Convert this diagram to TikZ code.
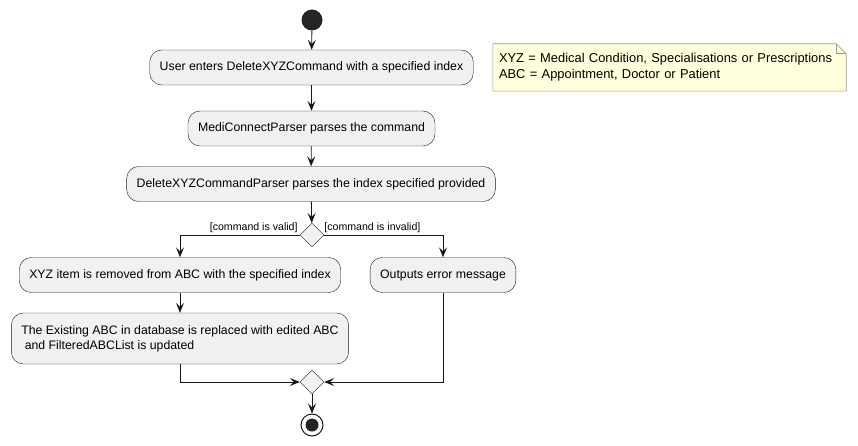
\documentclass[tikz,border=0pt]{standalone}
\usepackage{fontspec}
\setmainfont{Liberation Sans}
\usetikzlibrary{shapes.geometric, arrows.meta, positioning, calc, backgrounds}
\definecolor{actfill}{HTML}{F1F1F1}
\definecolor{actline}{HTML}{181818}
\definecolor{notefill}{HTML}{FEFFDD}
\definecolor{noteline}{HTML}{999999}
\begin{document}
\begin{tikzpicture}[
    x=1pt, y=-1pt,
    every node/.style={font=\fontsize{12.3}{15}\selectfont},
    act/.style={rectangle, draw=actline, fill=actfill, rounded corners=12pt,
                minimum height=35pt, inner xsep=10pt, align=center},
    choice/.style={diamond, draw=actline, fill=actfill, minimum width=24pt,
                   minimum height=24pt, inner sep=0pt},
    guard/.style={font=\fontsize{10.6}{12}\selectfont, inner sep=1pt},
    notetext/.style={align=left, inner xsep=6pt, minimum width=353pt,
                     minimum height=47pt, text width=341pt,
                     font=\fontsize{12.9}{16}\selectfont},
    arr/.style={-{Stealth[length=10pt, width=8pt, inset=4pt]}, actline, line width=0.8pt}
]
    \useasboundingbox (0,0) rectangle (858,446);

    \node[circle, fill=actline!95, minimum size=21pt, inner sep=0pt] (start) at (312,20) {};
    \node[act] (enter)  at (311.5,67.5)  {User enters DeleteXYZCommand with a specified index};
    \node[act] (mcp)    at (311.5,128.5) {MediConnectParser parses the command};
    \node[act] (dxp)    at (311,184)     {DeleteXYZCommandParser parses the index specified provided};
    \node[choice] (valid) at (312,235) {};
    \node[act] (remove) at (180,275)     {XYZ item is removed from ABC with the specified index};
    \node[act] (error)  at (443,275)     {Outputs error message};
    \node[act, align=left, minimum height=51pt] (replace) at (180,338.5)
        {The Existing ABC in database is replaced with edited ABC\\\ and FilteredABCList is updated};
    \node[choice] (merge) at (312,382) {};
    \node[circle, draw=actline, fill=white, line width=1pt, minimum size=22pt, inner sep=0pt] (stop) at (312,425) {};
    \node[circle, fill=actline!95, minimum size=13pt, inner sep=0pt] at (stop) {};

    % note
    \node[notetext] (note) at (669.5,67.5)
        {XYZ = Medical Condition, Specialisations or Prescriptions\\ABC = Appointment, Doctor or Patient};
    \begin{scope}[on background layer]
        \draw[noteline, fill=notefill, line width=0.6pt]
            (note.north west) -- ($(note.north east)+(-10,0)$) -- ($(note.north east)+(0,10)$)
            -- (note.south east) -- (note.south west) -- cycle;
        \draw[noteline, line width=0.6pt]
            ($(note.north east)+(-10,0)$) -- ($(note.north east)+(-10,10)$) -- ($(note.north east)+(0,10)$);
    \end{scope}

    \draw[arr] (start) -- (enter);
    \draw[arr] (enter) -- (mcp);
    \draw[arr] (mcp) -- (dxp);
    \draw[arr] (dxp) -- (valid);
    \draw[arr] (valid.west) -| (remove.north);
    \draw[arr] (valid.east) -| (error.north);
    \draw[arr] (remove) -- (replace);
    \draw[arr] (replace.south) |- (merge.west);
    \draw[arr] (error.south) |- (merge.east);
    \draw[arr] (merge) -- (stop);

    \node[guard, anchor=south east] at ($(valid.west)+(-1,-1)$) {[command is valid]};
    \node[guard, anchor=south west] at ($(valid.east)+(-1,-1)$) {[command is invalid]};
\end{tikzpicture}
\end{document}
